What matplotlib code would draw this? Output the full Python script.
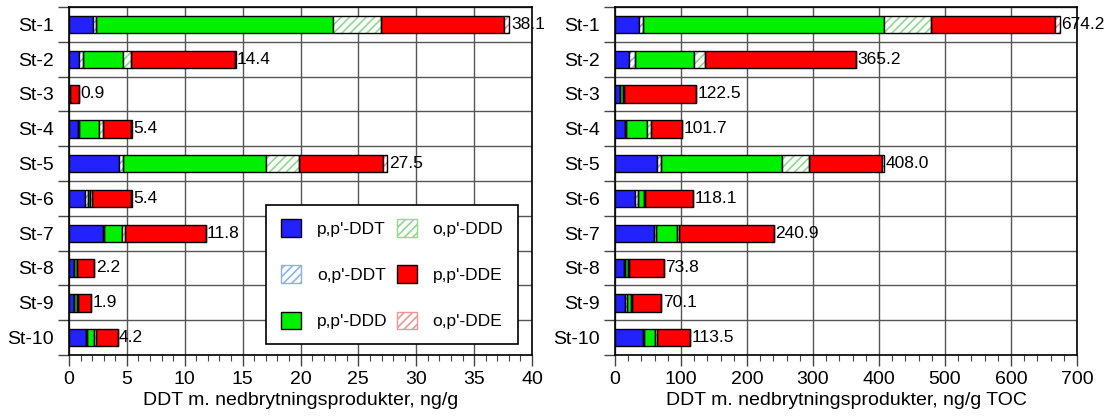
import numpy as np
import matplotlib.pyplot as plt
from matplotlib.patches import Patch
from matplotlib.ticker import MultipleLocator

plt.rcParams['font.family'] = ['Liberation Sans', 'DejaVu Sans']
plt.rcParams['hatch.linewidth'] = 1.2

stations = ['St-1', 'St-2', 'St-3', 'St-4', 'St-5', 'St-6', 'St-7', 'St-8', 'St-9', 'St-10']
components = ["p,p'-DDT", "o,p'-DDT", "p,p'-DDD", "o,p'-DDD", "p,p'-DDE", "o,p'-DDE"]

# ng/g dry weight
pp_ddt_dw = [2.05, 0.85, 0.02, 0.75, 4.35, 1.35, 2.9, 0.4, 0.4, 1.45]
op_ddt_dw = [0.3, 0.35, 0.0, 0.1, 0.3, 0.25, 0.15, 0.05, 0.05, 0.1]
pp_ddd_dw = [20.5, 3.5, 0.03, 1.75, 12.35, 0.25, 1.55, 0.2, 0.25, 0.6]
op_ddd_dw = [4.1, 0.65, 0.0, 0.3, 2.85, 0.15, 0.25, 0.05, 0.05, 0.15]
pp_dde_dw = [10.6, 9.0, 0.85, 2.45, 7.3, 3.35, 6.95, 1.5, 1.15, 1.9]
op_dde_dw = [0.5, 0.05, 0.0, 0.05, 0.35, 0.05, 0.0, 0.0, 0.0, 0.0]
total_dw = [38.1, 14.4, 0.9, 5.4, 27.5, 5.4, 11.8, 2.2, 1.9, 4.2]

# ng/g TOC
pp_ddt_toc = [36, 21, 7, 14.5, 64, 30.5, 58.5, 13.5, 15.5, 42]
op_ddt_toc = [6, 9.5, 1, 2.5, 5, 5, 4, 1.5, 2.5, 1.5]
pp_ddd_toc = [365, 89.5, 4.5, 31, 184, 8, 32, 4, 6.5, 17]
op_ddd_toc = [72, 16.5, 0.5, 6, 41, 2.5, 2.5, 1.5, 1.5, 3.5]
pp_dde_toc = [187, 228.5, 109.5, 47.7, 111, 72, 143.9, 53.3, 44.1, 49.5]
op_dde_toc = [8.2, 0.2, 0, 0, 3, 0.1, 0, 0, 0, 0]
total_toc = [674.2, 365.2, 122.5, 101.7, 408.0, 118.1, 240.9, 73.8, 70.1, 113.5]

fill_colors = ['#2222ff', 'white', '#00f000', 'white', '#ff0000', 'white']
hatch_colors = [None, '#8fb0e8', None, '#8fd88f', None, '#e89898']


def draw_panel(ax, parts, totals, xmax, xstep, xminor, xlabel):
    y = np.arange(len(stations))
    left = np.zeros(len(stations))
    for vals, fc, hc in zip(parts, fill_colors, hatch_colors):
        vals = np.array(vals, dtype=float)
        if hc is not None:
            ax.barh(y, vals, left=left, height=0.5, color='white', edgecolor=hc,
                    hatch='////', linewidth=0, zorder=3)
            ax.barh(y, vals, left=left, height=0.5, fill=False, edgecolor='black',
                    linewidth=1, zorder=4)
        else:
            ax.barh(y, vals, left=left, height=0.5, color=fc, edgecolor='black',
                    linewidth=1, zorder=3)
        left += vals
    for yi, t in zip(y, totals):
        ax.text(t + xmax * 0.003, yi, f'{t:.1f}', va='center', ha='left', fontsize=12.5, zorder=5)

    ax.set_xlim(0, xmax)
    ax.set_ylim(len(stations) - 0.5, -0.5)
    ax.set_yticks(y)
    ax.set_yticklabels(stations, fontsize=14)
    ax.set_yticks(np.arange(len(stations) + 1) - 0.5, minor=True)
    ax.tick_params(axis='y', which='major', length=0, pad=11)
    ax.tick_params(axis='y', which='minor', length=8, width=1, color='#444444')
    ax.xaxis.set_major_locator(MultipleLocator(xstep))
    ax.xaxis.set_minor_locator(MultipleLocator(xminor))
    ax.tick_params(axis='x', which='major', length=8, width=1, labelsize=14, color='#444444')
    ax.tick_params(axis='x', which='minor', length=4, width=0.8, color='#444444')
    ax.grid(True, axis='x', which='major', color='#555555', linewidth=1, zorder=0)
    ax.grid(True, axis='y', which='minor', color='#555555', linewidth=1, zorder=0)
    ax.set_axisbelow(True)
    for s in ax.spines.values():
        s.set_linewidth(1.2)
    ax.set_xlabel(xlabel, fontsize=14, labelpad=3)


fig = plt.figure(figsize=(11.04, 4.17), dpi=100)
ax1 = fig.add_axes([69 / 1104, 1 - 355 / 417, 463 / 1104, 348 / 417])
ax2 = fig.add_axes([615 / 1104, 1 - 355 / 417, 462 / 1104, 348 / 417])

draw_panel(ax1, [pp_ddt_dw, op_ddt_dw, pp_ddd_dw, op_ddd_dw, pp_dde_dw, op_dde_dw],
           total_dw, 40, 5, 1, 'DDT m. nedbrytningsprodukter, ng/g')
draw_panel(ax2, [pp_ddt_toc, op_ddt_toc, pp_ddd_toc, op_ddd_toc, pp_dde_toc, op_dde_toc],
           total_toc, 700, 100, 20, 'DDT m. nedbrytningsprodukter, ng/g TOC')

handles = []
for name, fc, hc in zip(components, fill_colors, hatch_colors):
    if hc is None:
        handles.append(Patch(facecolor=fc, edgecolor='black', linewidth=1, label=name))
    else:
        handles.append(Patch(facecolor='white', edgecolor=hc, hatch='////', linewidth=1, label=name))
leg = ax1.legend(handles=handles, ncol=2, loc='lower right', bbox_to_anchor=(0.970, 0.032),
                 fontsize=12.5, handlelength=1.15, handleheight=1.15, labelspacing=1.65,
                 columnspacing=0.55, handletextpad=0.9, borderpad=0.85, borderaxespad=0,
                 fancybox=False, framealpha=1, edgecolor='black')
leg.get_frame().set_linewidth(1.2)
leg.set_zorder(6)

fig.savefig('out.png', dpi=100)
